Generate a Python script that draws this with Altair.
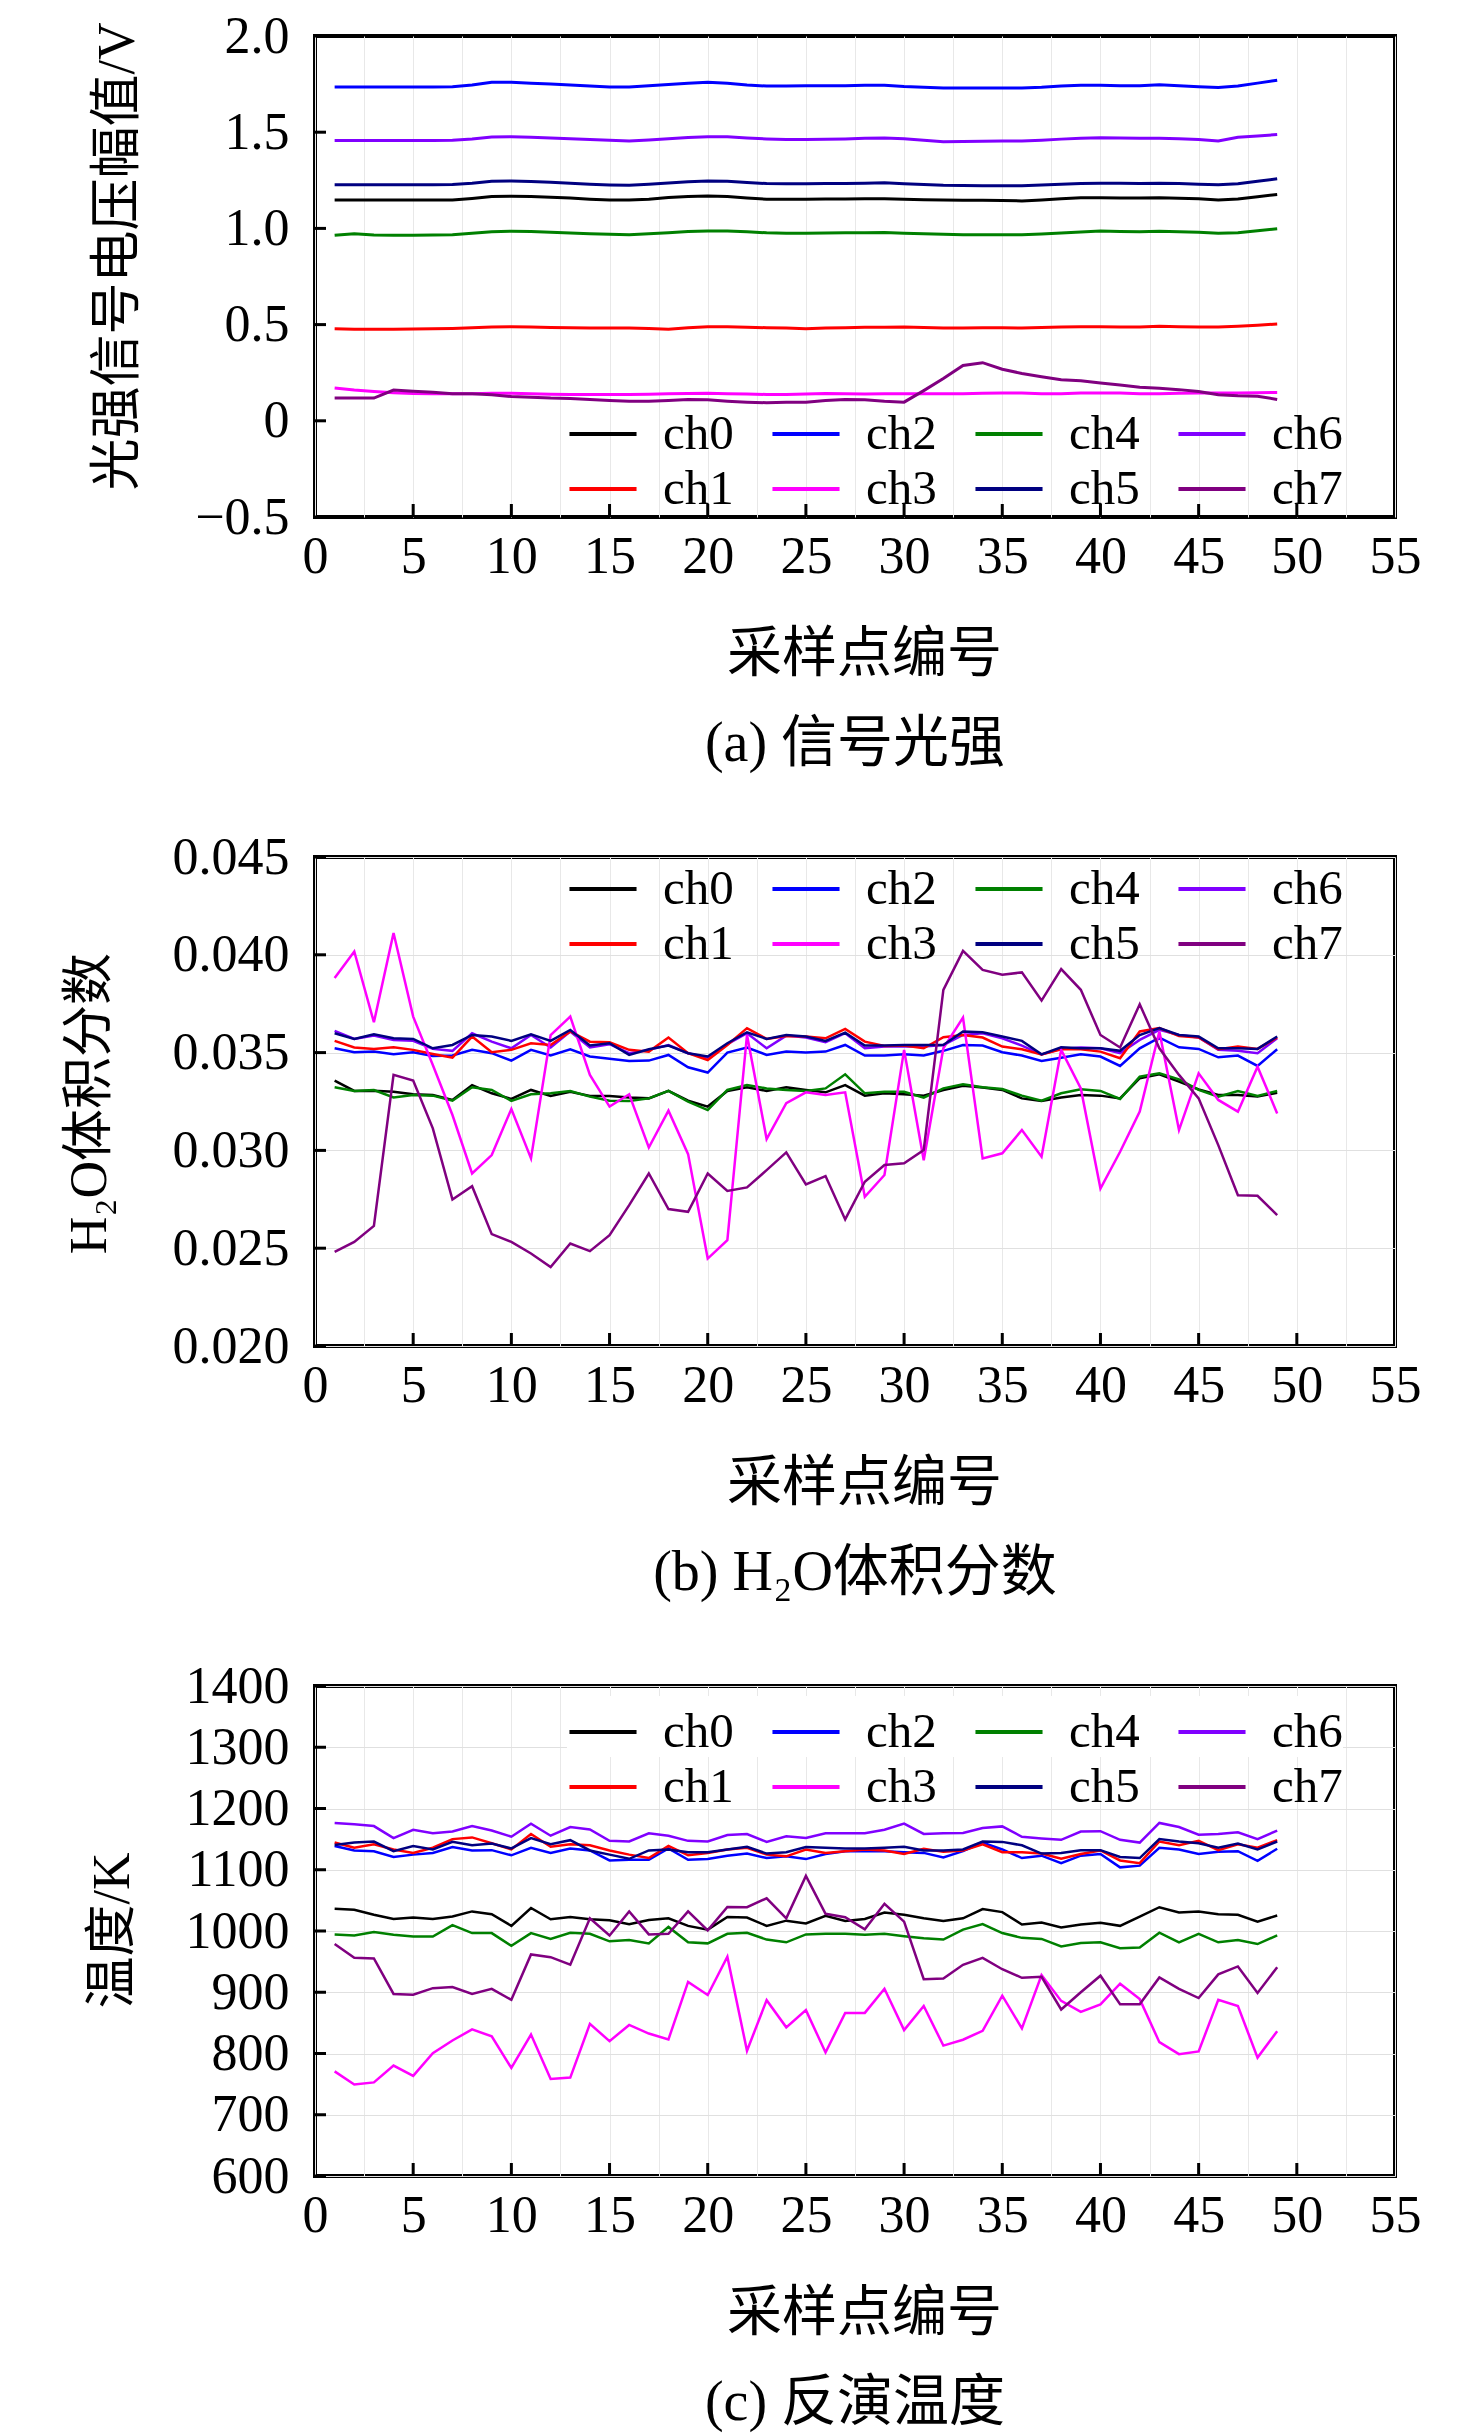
import altair as alt
import pandas as pd

SAMPLE_NO = list(range(1, 50))
CHANNELS = ["ch0", "ch1", "ch2", "ch3", "ch4", "ch5", "ch6", "ch7"]
LINE_COLORS = ["#000000", "#ff0000", "#0000ff", "#ff00ff", "#008000", "#000080", "#8000ff", "#800080"]
GRID_X = [0, 2.5, 5, 7.5, 10, 12.5, 15, 17.5, 20, 22.5, 25, 27.5, 30, 32.5, 35, 37.5, 40, 42.5, 45, 47.5, 50, 52.5, 55]
TICK_X = [5, 10, 15, 20, 25, 30, 35, 40, 45, 50]

# (a) signal light intensity, V
A_CH0 = [1.148, 1.148, 1.148, 1.148, 1.148, 1.148, 1.148, 1.156, 1.166, 1.167,
         1.166, 1.162, 1.158, 1.152, 1.148, 1.147, 1.152, 1.160, 1.166, 1.169,
         1.166, 1.158, 1.152, 1.152, 1.152, 1.153, 1.153, 1.154, 1.154, 1.152,
         1.149, 1.147, 1.146, 1.146, 1.145, 1.143, 1.148, 1.154, 1.159, 1.159,
         1.158, 1.158, 1.159, 1.157, 1.154, 1.148, 1.153, 1.165, 1.176]
A_CH1 = [0.478, 0.476, 0.476, 0.476, 0.477, 0.478, 0.480, 0.484, 0.488, 0.489,
         0.487, 0.485, 0.483, 0.482, 0.482, 0.482, 0.480, 0.476, 0.484, 0.489,
         0.489, 0.486, 0.484, 0.482, 0.479, 0.482, 0.484, 0.486, 0.486, 0.488,
         0.485, 0.482, 0.482, 0.483, 0.483, 0.482, 0.485, 0.487, 0.489, 0.489,
         0.487, 0.488, 0.491, 0.489, 0.488, 0.487, 0.491, 0.497, 0.503]
A_CH2 = [1.735, 1.735, 1.735, 1.735, 1.735, 1.735, 1.736, 1.745, 1.760, 1.760,
         1.755, 1.750, 1.745, 1.740, 1.735, 1.735, 1.742, 1.748, 1.755, 1.760,
         1.755, 1.745, 1.740, 1.740, 1.742, 1.742, 1.742, 1.744, 1.744, 1.737,
         1.733, 1.730, 1.730, 1.730, 1.730, 1.730, 1.733, 1.740, 1.744, 1.744,
         1.742, 1.742, 1.746, 1.742, 1.736, 1.732, 1.740, 1.755, 1.770]
A_CH3 = [0.171, 0.160, 0.152, 0.146, 0.142, 0.141, 0.140, 0.140, 0.143, 0.143,
         0.141, 0.138, 0.137, 0.137, 0.137, 0.137, 0.138, 0.140, 0.142, 0.143,
         0.141, 0.139, 0.137, 0.137, 0.139, 0.142, 0.141, 0.139, 0.140, 0.140,
         0.140, 0.140, 0.141, 0.143, 0.144, 0.144, 0.141, 0.140, 0.144, 0.145,
         0.144, 0.141, 0.140, 0.143, 0.144, 0.145, 0.145, 0.146, 0.147]
A_CH4 = [0.964, 0.972, 0.966, 0.964, 0.965, 0.966, 0.967, 0.975, 0.983, 0.985,
         0.984, 0.980, 0.976, 0.972, 0.969, 0.967, 0.972, 0.978, 0.984, 0.987,
         0.987, 0.982, 0.977, 0.975, 0.975, 0.976, 0.977, 0.978, 0.979, 0.975,
         0.972, 0.970, 0.967, 0.967, 0.967, 0.967, 0.971, 0.976, 0.981, 0.986,
         0.984, 0.982, 0.985, 0.983, 0.980, 0.975, 0.977, 0.988, 0.998]
A_CH5 = [1.227, 1.227, 1.227, 1.227, 1.227, 1.227, 1.228, 1.235, 1.245, 1.246,
         1.244, 1.240, 1.235, 1.230, 1.226, 1.224, 1.230, 1.236, 1.242, 1.246,
         1.245, 1.238, 1.233, 1.232, 1.232, 1.233, 1.233, 1.235, 1.237, 1.232,
         1.228, 1.224, 1.223, 1.222, 1.222, 1.222, 1.226, 1.230, 1.234, 1.235,
         1.235, 1.234, 1.235, 1.233, 1.230, 1.227, 1.232, 1.245, 1.258]
A_CH6 = [1.457, 1.457, 1.457, 1.457, 1.457, 1.457, 1.458, 1.465, 1.475, 1.476,
         1.474, 1.470, 1.466, 1.462, 1.458, 1.454, 1.460, 1.466, 1.472, 1.476,
         1.476, 1.470, 1.465, 1.462, 1.462, 1.463, 1.465, 1.468, 1.470, 1.466,
         1.458, 1.450, 1.452, 1.453, 1.454, 1.454, 1.458, 1.464, 1.468, 1.471,
         1.470, 1.468, 1.468, 1.466, 1.462, 1.454, 1.474, 1.480, 1.488]
A_CH7 = [0.118, 0.118, 0.118, 0.160, 0.154, 0.148, 0.140, 0.140, 0.135, 0.126,
         0.123, 0.118, 0.116, 0.111, 0.106, 0.102, 0.102, 0.106, 0.111, 0.109,
         0.102, 0.097, 0.094, 0.097, 0.097, 0.106, 0.111, 0.109, 0.101, 0.097,
         0.157, 0.220, 0.288, 0.302, 0.268, 0.246, 0.229, 0.213, 0.208, 0.196,
         0.186, 0.174, 0.169, 0.162, 0.152, 0.135, 0.130, 0.128, 0.111]

# (b) H2O volume fraction
B_CH0 = [0.03357, 0.03304, 0.03305, 0.03300, 0.03287, 0.03283, 0.03258, 0.03334, 0.03292, 0.03263,
         0.03309, 0.03278, 0.03300, 0.03278, 0.03278, 0.03270, 0.03266, 0.03304, 0.03254, 0.03224,
         0.03304, 0.03323, 0.03304, 0.03323, 0.03309, 0.03297, 0.03334, 0.03280, 0.03292, 0.03287,
         0.03280, 0.03309, 0.03331, 0.03321, 0.03309, 0.03266, 0.03253, 0.03270, 0.03283, 0.03280,
         0.03266, 0.03369, 0.03389, 0.03352, 0.03312, 0.03283, 0.03283, 0.03275, 0.03295]
B_CH1 = [0.03560, 0.03526, 0.03519, 0.03527, 0.03514, 0.03493, 0.03474, 0.03582, 0.03502, 0.03514,
         0.03548, 0.03539, 0.03608, 0.03556, 0.03553, 0.03514, 0.03505, 0.03577, 0.03497, 0.03462,
         0.03539, 0.03625, 0.03570, 0.03585, 0.03582, 0.03573, 0.03621, 0.03556, 0.03534, 0.03536,
         0.03522, 0.03579, 0.03590, 0.03577, 0.03531, 0.03517, 0.03491, 0.03517, 0.03517, 0.03505,
         0.03471, 0.03608, 0.03625, 0.03585, 0.03577, 0.03517, 0.03531, 0.03519, 0.03577]
B_CH2 = [0.03522, 0.03502, 0.03505, 0.03491, 0.03502, 0.03483, 0.03485, 0.03514, 0.03497, 0.03459,
         0.03514, 0.03485, 0.03517, 0.03480, 0.03468, 0.03457, 0.03459, 0.03488, 0.03425, 0.03398,
         0.03500, 0.03526, 0.03488, 0.03505, 0.03500, 0.03505, 0.03539, 0.03485, 0.03485, 0.03491,
         0.03485, 0.03509, 0.03539, 0.03536, 0.03502, 0.03485, 0.03457, 0.03474, 0.03491, 0.03480,
         0.03432, 0.03522, 0.03577, 0.03527, 0.03519, 0.03476, 0.03485, 0.03432, 0.03517]
B_CH3 = [0.03881, 0.04017, 0.03655, 0.04111, 0.03684, 0.03437, 0.03181, 0.02882, 0.02976, 0.03212,
         0.02959, 0.03590, 0.03684, 0.03386, 0.03224, 0.03287, 0.03015, 0.03203, 0.02981, 0.02447,
         0.02541, 0.03590, 0.03058, 0.03241, 0.03297, 0.03283, 0.03297, 0.02763, 0.02874, 0.03514,
         0.02950, 0.03522, 0.03679, 0.02959, 0.02985, 0.03104, 0.02968, 0.03514, 0.03317, 0.02805,
         0.02993, 0.03198, 0.03608, 0.03104, 0.03394, 0.03258, 0.03198, 0.03428, 0.03189]
B_CH4 = [0.03323, 0.03304, 0.03309, 0.03271, 0.03283, 0.03280, 0.03254, 0.03323, 0.03309, 0.03253,
         0.03287, 0.03292, 0.03304, 0.03275, 0.03254, 0.03253, 0.03266, 0.03304, 0.03249, 0.03206,
         0.03309, 0.03334, 0.03317, 0.03309, 0.03304, 0.03317, 0.03389, 0.03292, 0.03300, 0.03300,
         0.03270, 0.03317, 0.03338, 0.03323, 0.03314, 0.03280, 0.03254, 0.03292, 0.03312, 0.03304,
         0.03263, 0.03377, 0.03394, 0.03363, 0.03309, 0.03275, 0.03304, 0.03278, 0.03304]
B_CH5 = [0.03599, 0.03570, 0.03594, 0.03573, 0.03570, 0.03522, 0.03539, 0.03590, 0.03582, 0.03560,
         0.03594, 0.03560, 0.03616, 0.03536, 0.03548, 0.03488, 0.03517, 0.03536, 0.03497, 0.03480,
         0.03548, 0.03604, 0.03570, 0.03590, 0.03582, 0.03560, 0.03602, 0.03536, 0.03536, 0.03539,
         0.03539, 0.03539, 0.03608, 0.03604, 0.03582, 0.03560, 0.03491, 0.03527, 0.03522, 0.03522,
         0.03509, 0.03590, 0.03625, 0.03590, 0.03582, 0.03522, 0.03522, 0.03519, 0.03582]
B_CH6 = [0.03611, 0.03570, 0.03587, 0.03565, 0.03560, 0.03519, 0.03509, 0.03599, 0.03556, 0.03522,
         0.03590, 0.03526, 0.03608, 0.03526, 0.03543, 0.03497, 0.03514, 0.03539, 0.03497, 0.03474,
         0.03543, 0.03599, 0.03522, 0.03587, 0.03577, 0.03553, 0.03599, 0.03522, 0.03531, 0.03531,
         0.03531, 0.03539, 0.03590, 0.03599, 0.03573, 0.03536, 0.03491, 0.03519, 0.03526, 0.03522,
         0.03497, 0.03565, 0.03616, 0.03590, 0.03577, 0.03514, 0.03509, 0.03497, 0.03573]
B_CH7 = [0.02481, 0.02532, 0.02614, 0.03386, 0.03357, 0.03113, 0.02749, 0.02817, 0.02572, 0.02532,
         0.02473, 0.02404, 0.02524, 0.02485, 0.02567, 0.02720, 0.02882, 0.02700, 0.02686, 0.02882,
         0.02793, 0.02811, 0.02899, 0.02990, 0.02826, 0.02869, 0.02647, 0.02840, 0.02925, 0.02934,
         0.03002, 0.03821, 0.04020, 0.03923, 0.03898, 0.03910, 0.03766, 0.03927, 0.03821, 0.03590,
         0.03526, 0.03747, 0.03522, 0.03386, 0.03266, 0.03027, 0.02771, 0.02768, 0.02669]

# (c) retrieved temperature, K
C_CH0 = [1036.5, 1034.8, 1026.4, 1019.7, 1021.9, 1019.7, 1023.6, 1032.0, 1027.5, 1008.4,
         1037.6, 1019.1, 1023.0, 1019.1, 1017.4, 1011.2, 1018.0, 1020.8, 1008.4, 1002.2,
         1023.0, 1021.9, 1008.4, 1016.9, 1012.4, 1024.7, 1016.3, 1019.7, 1030.3, 1026.4,
         1020.8, 1016.3, 1020.8, 1035.9, 1030.9, 1010.7, 1014.0, 1005.6, 1010.7, 1013.5,
         1008.4, 1023.6, 1038.8, 1030.3, 1032.0, 1027.5, 1026.4, 1015.2, 1025.3]
C_CH1 = [1144.4, 1135.9, 1141.6, 1133.1, 1127.5, 1135.9, 1150.0, 1152.8, 1143.3, 1133.1,
         1158.4, 1137.6, 1141.6, 1139.9, 1131.5, 1124.7, 1119.1, 1138.8, 1123.6, 1127.5,
         1133.1, 1135.9, 1124.7, 1121.9, 1133.1, 1127.5, 1130.3, 1133.1, 1131.5, 1125.8,
         1134.3, 1129.2, 1131.5, 1141.6, 1128.7, 1128.7, 1126.4, 1117.9, 1125.8, 1131.5,
         1115.2, 1110.7, 1146.1, 1139.9, 1147.2, 1132.0, 1141.6, 1135.9, 1148.3]
C_CH2 = [1138.8, 1131.5, 1130.3, 1120.8, 1124.7, 1127.5, 1137.1, 1131.5, 1132.0, 1123.6,
         1135.9, 1127.5, 1134.8, 1131.5, 1115.2, 1116.3, 1116.3, 1134.8, 1116.3, 1117.4,
         1123.0, 1126.4, 1119.1, 1121.9, 1117.4, 1125.8, 1130.3, 1130.3, 1130.3, 1128.7,
         1127.5, 1120.2, 1130.3, 1144.4, 1133.1, 1119.1, 1123.0, 1110.7, 1123.0, 1125.8,
         1103.9, 1106.7, 1135.9, 1133.1, 1125.8, 1129.2, 1130.3, 1114.6, 1134.3]
C_CH3 = [770.8, 749.4, 752.8, 780.3, 763.5, 800.6, 821.3, 839.3, 828.1, 776.4,
         830.9, 758.4, 760.7, 848.3, 820.2, 846.6, 832.6, 823.0, 916.9, 895.5,
         957.9, 804.5, 887.1, 842.7, 870.8, 801.7, 866.3, 866.3, 905.6, 838.2,
         877.5, 812.9, 822.5, 837.1, 894.4, 841.0, 928.1, 885.9, 868.0, 880.3,
         914.0, 888.8, 818.5, 798.9, 803.4, 887.6, 877.5, 793.3, 836.5]
C_CH4 = [994.4, 992.7, 998.3, 993.8, 991.0, 991.0, 1009.6, 996.6, 996.6, 975.8,
         996.6, 987.1, 997.2, 995.5, 983.1, 985.4, 979.8, 1006.7, 981.5, 979.8,
         995.5, 997.2, 986.0, 981.5, 994.4, 995.5, 995.5, 993.8, 995.5, 991.6,
         988.2, 986.0, 1002.2, 1011.2, 996.6, 988.8, 987.1, 974.7, 980.3, 981.5,
         971.9, 973.0, 997.2, 981.5, 995.5, 981.5, 985.4, 978.7, 992.7]
C_CH5 = [1140.4, 1144.4, 1146.1, 1130.3, 1138.8, 1133.1, 1145.5, 1139.9, 1142.7, 1134.8,
         1151.7, 1141.6, 1148.3, 1131.5, 1124.7, 1117.9, 1131.5, 1133.1, 1128.7, 1128.7,
         1133.1, 1137.6, 1126.4, 1128.7, 1137.1, 1135.9, 1134.8, 1134.8, 1135.9, 1137.6,
         1131.5, 1131.5, 1133.1, 1146.1, 1145.5, 1139.9, 1126.4, 1127.5, 1132.0, 1132.0,
         1120.8, 1119.1, 1150.0, 1146.1, 1143.3, 1135.9, 1142.7, 1133.1, 1146.1]
C_CH6 = [1176.4, 1174.2, 1171.3, 1151.7, 1165.2, 1159.6, 1162.4, 1171.3, 1164.0, 1153.9,
         1175.3, 1155.6, 1169.7, 1165.7, 1147.2, 1146.1, 1159.6, 1155.6, 1147.2, 1146.1,
         1156.7, 1158.4, 1145.5, 1154.5, 1151.7, 1159.6, 1159.6, 1159.6, 1165.2, 1175.3,
         1158.4, 1159.6, 1160.1, 1168.0, 1170.8, 1153.9, 1151.1, 1148.9, 1162.4, 1162.9,
         1148.9, 1144.4, 1176.4, 1169.7, 1157.3, 1158.4, 1161.2, 1150.0, 1164.0]
C_CH7 = [978.7, 956.2, 955.1, 897.2, 896.1, 906.7, 908.4, 897.2, 905.6, 887.6,
         961.8, 957.3, 945.1, 1020.8, 992.7, 1032.0, 994.4, 995.5, 1032.0, 1001.1,
         1039.3, 1038.8, 1053.4, 1020.8, 1089.9, 1028.1, 1022.5, 1002.8, 1044.4, 1015.2,
         921.3, 922.5, 944.9, 956.2, 937.6, 923.6, 925.3, 871.9, 900.0, 927.0,
         880.3, 880.3, 924.2, 905.6, 890.5, 929.2, 942.1, 898.9, 941.0]

PLOT_W = 1080
FONT = "Liberation Serif, Noto Sans CJK SC"
LEGEND_ROW_GAP = 55


def long_frame(names: list[str], series: list[list[float]]) -> pd.DataFrame:
    rows = []
    for name, values in zip(names, series):
        assert len(values) == len(SAMPLE_NO), name
        rows += [{"n": n, "v": v, "ch": name} for n, v in zip(SAMPLE_NO, values)]
    return pd.DataFrame(rows)


def legend_row(legend_y: float, fill: bool) -> alt.Legend:
    args = dict(
        orient="none", legendX=252, legendY=legend_y, title=None, columns=4, columnPadding=30,
        symbolType="stroke", symbolSize=4500, symbolStrokeWidth=4,
        labelOffset=24, labelFontSize=49, labelFont=FONT, labelColor="black", padding=0,
    )
    if fill:
        args["fillColor"] = "white"
    return alt.Legend(**args)


def panel(series, height, y_domain, y_values, y_label_expr, y_title, title_pos, y_grid, legend_y, legend_fill, caption, stroke_width):
    x_scale = alt.Scale(domain=[0, 55], nice=False, zero=False)
    y_scale = alt.Scale(domain=y_domain, nice=False, zero=False)
    x_axis = alt.Axis(
        values=GRID_X,
        labelExpr="datum.value % 5 === 0 ? datum.label : ''",
        labelOverlap=False, labelFlush=False, labelPadding=14,
        ticks=False, domain=False, grid=True, gridColor="#e8e8e8",
        title="采样点编号", titleFontSize=55, titleX=PLOT_W / 2 + 9, titleY=136, titleBaseline="middle",
    )
    y_axis = alt.Axis(
        values=y_values, labelExpr=y_label_expr,
        labelOverlap=False, labelFlush=False, labelPadding=26,
        ticks=False, domain=False, grid=y_grid, gridColor="#e0e0e0",
        title=y_title, titleAngle=270, titleAlign="center", titleBaseline="middle",
        titleX=title_pos[0], titleY=title_pos[1],
    )
    # legend rows: ch0 ch2 ch4 ch6 on top, ch1 ch3 ch5 ch7 below
    even = CHANNELS[0::2]
    odd = CHANNELS[1::2]
    lines_even = (
        alt.Chart(long_frame(even, series[0::2]))
        .mark_line(strokeWidth=stroke_width)
        .encode(
            x=alt.X("n:Q", scale=x_scale, axis=x_axis),
            y=alt.Y("v:Q", scale=y_scale, axis=y_axis),
            color=alt.Color("ch:N", scale=alt.Scale(domain=even, range=LINE_COLORS[0::2]),
                            legend=legend_row(legend_y, legend_fill)),
        )
    )
    lines_odd = (
        alt.Chart(long_frame(odd, series[1::2]))
        .mark_line(strokeWidth=stroke_width)
        .encode(
            x=alt.X("n:Q", scale=x_scale),
            y=alt.Y("v:Q", scale=y_scale),
            color=alt.Color("ch:N", scale=alt.Scale(domain=odd, range=LINE_COLORS[1::2]),
                            legend=legend_row(legend_y + LEGEND_ROW_GAP, False)),
        )
    )
    # inward ticks, drawn on the same scales as the lines
    x_ticks = (
        alt.Chart(pd.DataFrame({"n": TICK_X}))
        .mark_rule(color="black", strokeWidth=3)
        .encode(x=alt.X("n:Q", scale=x_scale), y=alt.value(height), y2=alt.value(height - 13))
    )
    y_ticks = (
        alt.Chart(pd.DataFrame({"v": y_values}))
        .mark_rule(color="black", strokeWidth=3)
        .encode(y=alt.Y("v:Q", scale=y_scale), x=alt.value(0), x2=alt.value(11))
    )
    return (
        alt.layer(lines_even, lines_odd, x_ticks, y_ticks)
        .resolve_scale(color="independent")
        .resolve_legend(color="independent")
        .properties(
            width=PLOT_W,
            height=height,
            title=alt.TitleParams(caption, orient="bottom", anchor="middle", offset=36, fontSize=56,
                                  font=FONT, fontWeight="normal"),
        )
    )


panel_a = panel(
    [A_CH0, A_CH1, A_CH2, A_CH3, A_CH4, A_CH5, A_CH6, A_CH7], 481,
    [-0.5, 2.0], [-0.5, 0, 0.5, 1.0, 1.5, 2.0],
    "datum.value === 0 ? '0' : format(datum.value, '.1f')",
    "光强信号电压幅值/V", (-198, 220), False, 362, False, "(a) 信号光强", 3,
)
panel_b = panel(
    [B_CH0, B_CH1, B_CH2, B_CH3, B_CH4, B_CH5, B_CH6, B_CH7], 489,
    [0.020, 0.045], [0.020, 0.025, 0.030, 0.035, 0.040, 0.045],
    "format(datum.value, '.3f')",
    "H₂O体积分数", (-226, 246), True, -4, False, "(b) H₂O体积分数", 2.5,
)
panel_c = panel(
    [C_CH0, C_CH1, C_CH2, C_CH3, C_CH4, C_CH5, C_CH6, C_CH7], 490,
    [600, 1400], [600, 700, 800, 900, 1000, 1100, 1200, 1300, 1400],
    "format(datum.value, 'd')",
    "温度/K", (-203, 244), True, 10, True, "(c) 反演温度", 2.5,
)

chart = (
    alt.vconcat(panel_a, panel_b, panel_c, spacing=340, bounds="flush")
    .resolve_scale(color="independent", x="independent", y="independent")
    .resolve_legend(color="independent")
    .properties(padding={"left": 53, "top": 0, "right": 10, "bottom": 0}, background="white")
    .configure_view(stroke="black", strokeWidth=4)
    .configure_axis(labelFont=FONT, labelFontSize=52, labelColor="black",
                    titleFont=FONT, titleFontSize=52, titleFontWeight="normal", titleColor="black")
)

chart.save("out.html", embed_options={"renderer": "svg", "actions": False})
